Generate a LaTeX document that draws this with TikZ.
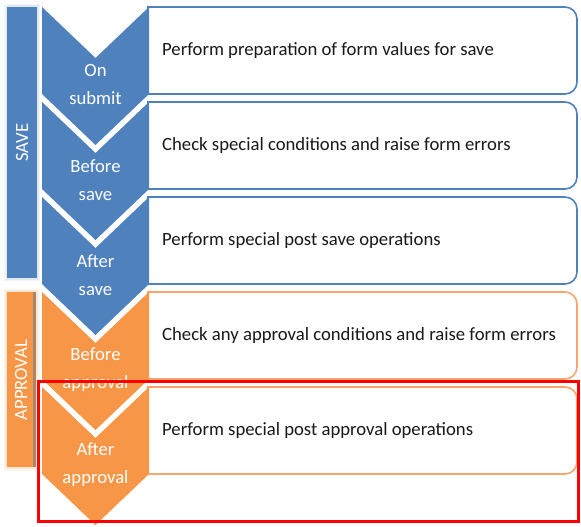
\documentclass[tikz,border=0pt]{standalone}
\usepackage{fontspec}
\setmainfont{Carlito}

\definecolor{saveblue}{HTML}{4F81BD}
\definecolor{approrange}{HTML}{F79646}
\definecolor{orangeline}{HTML}{F9A66C}
\definecolor{barshade}{HTML}{A4876F}

\tikzset{
    boxline/.style={draw=#1, line width=1.6pt, fill=white},
    tasktext/.style={anchor=west, inner sep=0pt, text=black!90, font=\fontsize{18.7}{22}\selectfont},
    chevtext/.style={text=white, align=center, inner sep=0pt, font=\fontsize{18.7}{28}\selectfont},
    phasetext/.style={text=white, rotate=90, inner sep=0pt, font=\fontsize{18.7}{22}\selectfont}
}

\begin{document}
\begin{tikzpicture}[x=1pt, y=-1pt]

        \useasboundingbox (0,0) rectangle (581,527);

        % Phase bars on the left, with a soft halo
        \draw[line width=6pt, saveblue!8] (7,7) rectangle (37,278);
        \draw[line width=3pt, saveblue!18] (7,7) rectangle (37,278);
        \fill[saveblue] (7,7) rectangle (37,278);
        \node[phasetext] (save) at (22,142.5) {SAVE};

        \draw[line width=7pt, approrange!10] (7,292) rectangle (36,467);
        \draw[line width=3.5pt, approrange!22] (7,292) rectangle (36,467);
        \fill[approrange] (7,292) rectangle (36,467);
        \draw[line width=3pt, barshade] (34.5,292) -- (34.5,467);
        \node[phasetext] (approval) at (21,380) {APPROVAL};

        % Task boxes, square on the left and rounded on the right
        \foreach \i/\col/\task in {0/saveblue/{Perform preparation of form values for save},
                                   1/saveblue/{Check special conditions and raise form errors},
                                   2/saveblue/{Perform special post save operations},
                                   3/orangeline/{Check any approval conditions and raise form errors},
                                   4/orangeline/{Perform special post approval operations}} {
            \pgfmathsetmacro{\ytop}{7 + 95*\i}
            \draw[boxline=\col] (148,\ytop) -- (565,\ytop) arc (-90:0:12)
                -- (577,\ytop+75) arc (0:90:12) -- (148,\ytop+87) -- cycle;
            \node[tasktext] (task\i) at (162,\ytop+43.5) {\task};
        }

        % Chevrons with the event names
        \foreach \i/\col/\lineA/\lineB in {0/saveblue/On/submit,
                                           1/saveblue/Before/save,
                                           2/saveblue/After/save,
                                           3/approrange/Before/approval,
                                           4/approrange/After/approval} {
            \pgfmathsetmacro{\ytop}{7 + 95*\i}
            \fill[\col] (42,\ytop) -- (95.5,\ytop+51) -- (149,\ytop) -- (149,\ytop+87)
                -- (95.5,\ytop+138) -- (42,\ytop+87) -- cycle;
            \node[chevtext] (event\i) at (95.5,\ytop+78) {\lineA\\\lineB};
        }

        % Highlight of the last step
        \draw[red, line width=3pt] (38,381.5) rectangle (578,521);

    \end{tikzpicture}
\end{document}
